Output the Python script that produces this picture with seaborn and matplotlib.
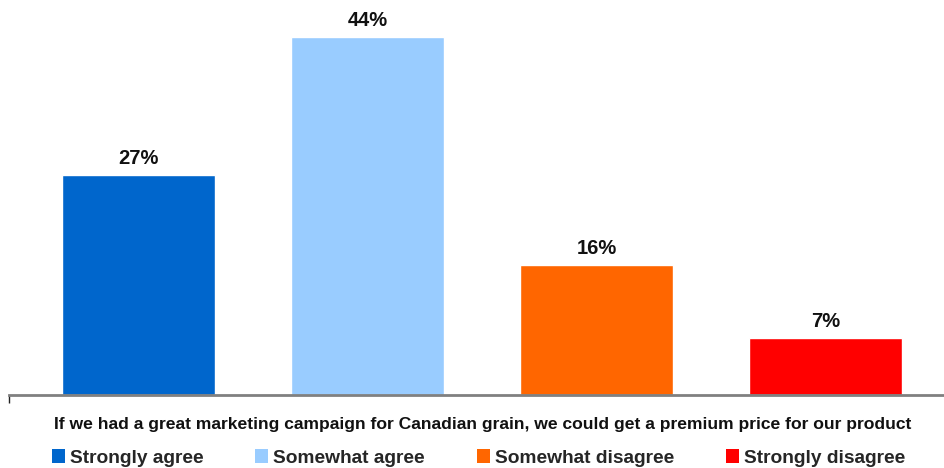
import matplotlib
matplotlib.use("Agg")
import matplotlib.pyplot as plt
from matplotlib.patches import Patch
import seaborn as sns
import pandas as pd

categories = ["Strongly agree", "Somewhat agree", "Somewhat disagree", "Strongly disagree"]
values = [27, 44, 16, 7]
colors = ["#0066CC", "#99CCFF", "#FF6600", "#FF0000"]
question = "If we had a great marketing campaign for Canadian grain, we could get a premium price for our product"

sns.set_theme(style="white")
plt.rcParams["font.family"] = ["Liberation Sans", "DejaVu Sans"]

df = pd.DataFrame({"response": categories, "pct": values})

fig = plt.figure(figsize=(9.44, 4.68), dpi=100)
W, H = 944, 468
ax = fig.add_axes([9 / W, (H - 395) / H, (944 - 9) / W, 395 / H])

sns.barplot(data=df, x="response", y="pct", hue="response", palette=colors,
            order=categories, hue_order=categories, width=0.668, dodge=False,
            legend=False, ax=ax, saturation=1)

pitch = 229.0
first_center = 138.5
ax.set_xlim((9 - first_center) / pitch, (944 - first_center) / pitch)
ax.set_ylim(0, 395 / 8.14)

for i, v in enumerate(values):
    ax.text(i, v + 0.85, f"{v}%", ha="center", va="bottom",
            fontsize=14.5, fontweight="bold", color="#111111")

for s in ["top", "right", "left"]:
    ax.spines[s].set_visible(False)
ax.spines["bottom"].set_color("#808080")
ax.spines["bottom"].set_linewidth(2)
ax.set_yticks([])
ax.set_xticks([ax.get_xlim()[0] + 0.001])
ax.set_xticklabels([""])
ax.tick_params(axis="x", bottom=True, length=6, width=1, color="#222222", direction="out")
ax.set_xlabel("")
ax.set_ylabel("")

fig.text(483 / W, 1 - 424 / H, question, ha="center", va="center",
         fontsize=12.6, fontweight="bold", color="#111111")

handles = [Patch(facecolor=c, edgecolor="none") for c in colors]
fig.legend(handles, categories, loc="center left", bbox_to_anchor=(52 / W, 1 - 458 / H),
           ncol=4, frameon=False, handlelength=0.68, handleheight=0.68,
           handletextpad=0.26, columnspacing=2.7, borderpad=0, borderaxespad=0,
           prop={"size": 13.8, "weight": "bold"})

fig.savefig("out.png", dpi=100)
